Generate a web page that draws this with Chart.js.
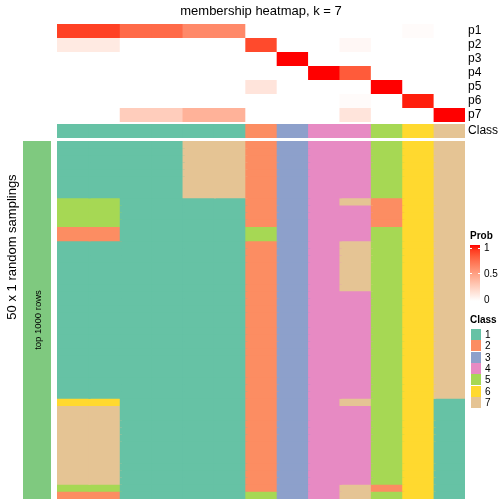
<!DOCTYPE html>
<html lang="en">
<head>
<meta charset="UTF-8">
<title>membership heatmap, k = 7</title>
<script src="https://cdn.jsdelivr.net/npm/chart.js"></script>
<style>
    * { box-sizing: border-box; margin: 0; padding: 0; }

    body {
        width: 504px;
        height: 504px;
        position: relative;
        overflow: hidden;
        background: #fff;
        font-family: "Liberation Sans", Arial, sans-serif;
        color: #000;
    }

    #heatmap { position: absolute; left: 0; top: 0; }

    .title {
        position: absolute;
        left: 57px;
        width: 408px;
        top: 3px;
        text-align: center;
        font-size: 13px;
        line-height: 15px;
    }

    .side-label {
        position: absolute;
        left: 11px;
        top: 247px;
        transform: translate(-50%, -50%) rotate(-90deg);
        white-space: nowrap;
        font-size: 13px;
    }

    .sampling-bar {
        position: absolute;
        left: 23px;
        top: 141px;
        width: 28px;
        height: 358px;
        background: #7FC97F;
    }

    .sampling-bar span {
        position: absolute;
        left: 14px;
        top: 179px;
        transform: translate(-50%, -50%) rotate(-90deg);
        white-space: nowrap;
        font-size: 9.5px;
    }

    .legend-title {
        position: absolute;
        left: 470px;
        font-size: 10px;
        font-weight: bold;
        line-height: 12px;
    }

    .prob-bar {
        position: absolute;
        left: 470px;
        top: 245px;
        width: 10px;
        height: 56px;
    }

    .prob-bar i {
        position: absolute;
        height: 1px;
        width: 2px;
        background: #fff;
    }

    .legend-label {
        position: absolute;
        font-size: 10px;
        line-height: 12px;
    }

    .class-box {
        position: absolute;
        left: 471px;
        width: 10px;
        height: 11px;
    }
</style>
</head>
<body>
    <canvas id="heatmap" width="504" height="504"></canvas>

    <div class="title">membership heatmap, k = 7</div>
    <div class="side-label">50 x 1 random samplings</div>
    <div class="sampling-bar"><span>top 1000 rows</span></div>

    <div id="legend"></div>

    <script>
        // ---- data ----
        const columns = ['s1', 's2', 's3', 's4', 's5', 's6', 's7', 's8', 's9', 's10', 's11', 's12', 's13'];
        const probRows = ['p1', 'p2', 'p3', 'p4', 'p5', 'p6', 'p7'];

        // membership probability of each column for classes p1..p7
        const probP1 = [0.89, 0.89, 0.74, 0.74, 0.60, 0.60, 0, 0, 0, 0, 0, 0.02, 0];
        const probP2 = [0.11, 0.11, 0, 0, 0, 0, 0.86, 0, 0, 0.04, 0, 0, 0];
        const probP3 = [0, 0, 0, 0, 0, 0, 0, 1, 0, 0, 0, 0, 0];
        const probP4 = [0, 0, 0, 0, 0, 0, 0, 0, 1, 0.80, 0, 0, 0];
        const probP5 = [0, 0, 0, 0, 0, 0, 0.14, 0, 0, 0, 1, 0, 0];
        const probP6 = [0, 0, 0, 0, 0, 0, 0, 0, 0, 0.02, 0, 0.97, 0];
        const probP7 = [0, 0, 0.26, 0.26, 0.40, 0.40, 0, 0, 0, 0.14, 0, 0, 1];
        const probValues = [probP1, probP2, probP3, probP4, probP5, probP6, probP7];

        // consensus class of each column
        const consensusClass = [1, 1, 1, 1, 1, 1, 2, 3, 4, 4, 5, 6, 7];

        // class of each column in each of the 50 random samplings (one array per column)
        const samplingS1 = [
            1, 1, 1, 1, 1, 1, 1, 1, 5, 5,
            5, 5, 2, 2, 1, 1, 1, 1, 1, 1,
            1, 1, 1, 1, 1, 1, 1, 1, 1, 1,
            1, 1, 1, 1, 1, 1, 6, 7, 7, 7,
            7, 7, 7, 7, 7, 7, 7, 7, 5, 2];
        const samplingS2 = samplingS1.slice();
        const samplingS3 = [
            1, 1, 1, 1, 1, 1, 1, 1, 1, 1,
            1, 1, 1, 1, 1, 1, 1, 1, 1, 1,
            1, 1, 1, 1, 1, 1, 1, 1, 1, 1,
            1, 1, 1, 1, 1, 1, 1, 1, 1, 1,
            1, 1, 1, 1, 1, 1, 1, 1, 1, 1];
        const samplingS4 = samplingS3.slice();
        const samplingS5 = [
            7, 7, 7, 7, 7, 7, 7, 7, 1, 1,
            1, 1, 1, 1, 1, 1, 1, 1, 1, 1,
            1, 1, 1, 1, 1, 1, 1, 1, 1, 1,
            1, 1, 1, 1, 1, 1, 1, 1, 1, 1,
            1, 1, 1, 1, 1, 1, 1, 1, 1, 1];
        const samplingS6 = samplingS5.slice();
        const samplingS7 = [
            2, 2, 2, 2, 2, 2, 2, 2, 2, 2,
            2, 2, 5, 5, 2, 2, 2, 2, 2, 2,
            2, 2, 2, 2, 2, 2, 2, 2, 2, 2,
            2, 2, 2, 2, 2, 2, 2, 2, 2, 2,
            2, 2, 2, 2, 2, 2, 2, 2, 2, 5];
        const samplingS8 = [
            3, 3, 3, 3, 3, 3, 3, 3, 3, 3,
            3, 3, 3, 3, 3, 3, 3, 3, 3, 3,
            3, 3, 3, 3, 3, 3, 3, 3, 3, 3,
            3, 3, 3, 3, 3, 3, 3, 3, 3, 3,
            3, 3, 3, 3, 3, 3, 3, 3, 3, 3];
        const samplingS9 = [
            4, 4, 4, 4, 4, 4, 4, 4, 4, 4,
            4, 4, 4, 4, 4, 4, 4, 4, 4, 4,
            4, 4, 4, 4, 4, 4, 4, 4, 4, 4,
            4, 4, 4, 4, 4, 4, 4, 4, 4, 4,
            4, 4, 4, 4, 4, 4, 4, 4, 4, 4];
        const samplingS10 = [
            4, 4, 4, 4, 4, 4, 4, 4, 7, 4,
            4, 4, 4, 4, 7, 7, 7, 7, 7, 7,
            7, 4, 4, 4, 4, 4, 4, 4, 4, 4,
            4, 4, 4, 4, 4, 4, 7, 4, 4, 4,
            4, 4, 4, 4, 4, 4, 4, 4, 7, 7];
        const samplingS11 = [
            5, 5, 5, 5, 5, 5, 5, 5, 2, 2,
            2, 2, 5, 5, 5, 5, 5, 5, 5, 5,
            5, 5, 5, 5, 5, 5, 5, 5, 5, 5,
            5, 5, 5, 5, 5, 5, 5, 5, 5, 5,
            5, 5, 5, 5, 5, 5, 5, 5, 2, 5];
        const samplingS12 = [
            6, 6, 6, 6, 6, 6, 6, 6, 6, 6,
            6, 6, 6, 6, 6, 6, 6, 6, 6, 6,
            6, 6, 6, 6, 6, 6, 6, 6, 6, 6,
            6, 6, 6, 6, 6, 6, 6, 6, 6, 6,
            6, 6, 6, 6, 6, 6, 6, 6, 6, 6];
        const samplingS13 = [
            7, 7, 7, 7, 7, 7, 7, 7, 7, 7,
            7, 7, 7, 7, 7, 7, 7, 7, 7, 7,
            7, 7, 7, 7, 7, 7, 7, 7, 7, 7,
            7, 7, 7, 7, 7, 7, 1, 1, 1, 1,
            1, 1, 1, 1, 1, 1, 1, 1, 1, 1];
        const samplingByColumn = [samplingS1, samplingS2, samplingS3, samplingS4, samplingS5, samplingS6,
            samplingS7, samplingS8, samplingS9, samplingS10, samplingS11, samplingS12, samplingS13];

        const classLabels = ['1', '2', '3', '4', '5', '6', '7'];
        const classColors = ['#66C2A5', '#FC8D62', '#8DA0CB', '#E78AC3', '#A6D854', '#FFD92F', '#E5C494'];
        const probTicks = [1, 0.5, 0];

        // ---- white -> red colour ramp, interpolated in Lab like colorRamp2 ----
        function toLinear(c) {
            c /= 255;
            return c <= 0.04045 ? c / 12.92 : Math.pow((c + 0.055) / 1.055, 2.4);
        }
        function fromLinear(c) {
            c = c <= 0.0031308 ? 12.92 * c : 1.055 * Math.pow(c, 1 / 2.4) - 0.055;
            return Math.round(Math.max(0, Math.min(1, c)) * 255);
        }
        const WX = 0.95047, WY = 1, WZ = 1.08883;
        function rgbToLab(rgb) {
            const [r, g, b] = rgb.map(toLinear);
            const x = (0.4124 * r + 0.3576 * g + 0.1805 * b) / WX;
            const y = (0.2126 * r + 0.7152 * g + 0.0722 * b) / WY;
            const z = (0.0193 * r + 0.1192 * g + 0.9505 * b) / WZ;
            const f = t => t > 0.008856 ? Math.cbrt(t) : 7.787 * t + 16 / 116;
            return [116 * f(y) - 16, 500 * (f(x) - f(y)), 200 * (f(y) - f(z))];
        }
        function labToRgb(lab) {
            const fy = (lab[0] + 16) / 116, fx = fy + lab[1] / 500, fz = fy - lab[2] / 200;
            const inv = t => t * t * t > 0.008856 ? t * t * t : (t - 16 / 116) / 7.787;
            const x = inv(fx) * WX, y = inv(fy) * WY, z = inv(fz) * WZ;
            const r = 3.2406 * x - 1.5372 * y - 0.4986 * z;
            const g = -0.9689 * x + 1.8758 * y + 0.0415 * z;
            const b = 0.0557 * x - 0.2040 * y + 1.0570 * z;
            return [fromLinear(r), fromLinear(g), fromLinear(b)];
        }
        const labWhite = rgbToLab([255, 255, 255]);
        const labRed = rgbToLab([255, 0, 0]);
        function probColor(v) {
            const lab = labWhite.map((w, i) => w + (labRed[i] - w) * v);
            const [r, g, b] = labToRgb(lab);
            return `rgb(${r},${g},${b})`;
        }

        // ---- layout of the rows along the y axis (units = px of the plot area) ----
        const PROB_ROW_H = 14;
        const CLASS_GAP = 2;
        const CLASS_ROW_H = 14;
        const BODY_GAP = 3;
        const BODY_ROW_H = 7.16;
        // cells are widened a little under their neighbours so no hairlines show
        const SEAM = 1.2;
        const BAR_PCT = 1.07;
        const PLOT_LEFT = 57, PLOT_W = 408;
        const xShift = PLOT_W / columns.length * (BAR_PCT - 1) / 2;

        const classTop = probRows.length * PROB_ROW_H + CLASS_GAP;
        const bodyTop = classTop + CLASS_ROW_H + BODY_GAP;
        const nSamplings = samplingS1.length;
        const yTotal = bodyTop + nSamplings * BODY_ROW_H;

        const datasets = [];
        function addRow(top, h, colors, first) {
            // datasets are painted last-to-first, so the row above covers this extension
            const start = first ? top : top - SEAM;
            datasets.push({
                data: columns.map(() => [start, top + h]),
                backgroundColor: colors,
                borderWidth: 0,
                barPercentage: BAR_PCT,
                categoryPercentage: 1,
                clip: { left: xShift + 1, right: -xShift, top: 0, bottom: 0 }
            });
        }

        probValues.forEach((vals, i) => {
            addRow(i * PROB_ROW_H, PROB_ROW_H, vals.map(probColor), i === 0);
        });
        addRow(classTop, CLASS_ROW_H, consensusClass.map(c => classColors[c - 1]), true);
        for (let r = 0; r < nSamplings; r++) {
            addRow(bodyTop + r * BODY_ROW_H, BODY_ROW_H,
                samplingByColumn.map(col => classColors[col[r] - 1]), r === 0);
        }

        const rowLabels = probRows.concat(['Class']);
        const rowCenters = probRows.map((_, i) => (i + 0.5) * PROB_ROW_H).concat([classTop + CLASS_ROW_H / 2]);

        new Chart(document.getElementById('heatmap'), {
            type: 'bar',
            data: { labels: columns, datasets: datasets },
            options: {
                responsive: false,
                animation: false,
                events: [],
                layout: { padding: { left: PLOT_LEFT + xShift, top: 24, right: 0, bottom: 504 - 24 - yTotal } },
                plugins: { legend: { display: false }, tooltip: { enabled: false } },
                datasets: { bar: { grouped: false } },
                scales: {
                    x: { display: false, offset: true },
                    y: {
                        position: 'right',
                        reverse: true,
                        min: 0,
                        max: yTotal,
                        grid: { display: false, drawTicks: false },
                        border: { display: false },
                        afterBuildTicks: scale => {
                            scale.ticks = rowCenters.map(v => ({ value: v }));
                        },
                        afterFit: scale => {
                            scale.width = 504 - PLOT_LEFT - xShift - PLOT_W;
                            scale.paddingTop = 0;
                            scale.paddingBottom = 0;
                        },
                        ticks: {
                            autoSkip: false,
                            padding: 2,
                            color: '#000',
                            font: { family: '"Liberation Sans", Arial, sans-serif', size: 12 },
                            callback: (value, index) => rowLabels[index]
                        }
                    }
                }
            }
        });

        // ---- legends on the right ----
        const legend = document.getElementById('legend');
        function put(html) { legend.insertAdjacentHTML('beforeend', html); }

        put('<div class="legend-title" style="top:230px">Prob</div>');
        const stops = [];
        for (let i = 0; i <= 10; i++) stops.push(probColor(1 - i / 10) + ' ' + (i * 10) + '%');
        put(`<div class="prob-bar" style="background:linear-gradient(to bottom, ${stops.join(',')})">
                <i style="left:0;top:3px"></i><i style="right:0;top:3px"></i>
                <i style="left:0;top:28px"></i><i style="right:0;top:28px"></i></div>`);
        const probTickY = [248, 274, 300];
        probTicks.forEach((t, i) => {
            put(`<div class="legend-label" style="left:484px;top:${probTickY[i] - 6}px">${t}</div>`);
        });

        put('<div class="legend-title" style="top:314px">Class</div>');
        classLabels.forEach((lab, i) => {
            const top = 329 + i * 11.3;
            put(`<div class="class-box" style="top:${top}px;background:${classColors[i]}"></div>`);
            put(`<div class="legend-label" style="left:485px;top:${top}px">${lab}</div>`);
        });
    </script>
</body>
</html>
